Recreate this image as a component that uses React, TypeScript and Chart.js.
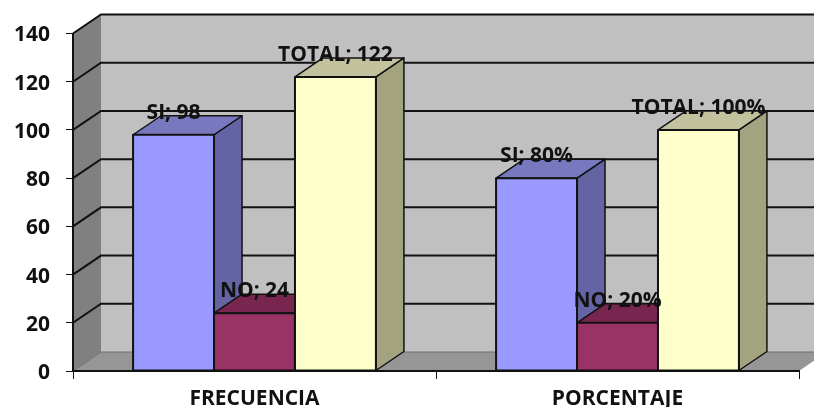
import React, { useEffect, useRef } from "react";
import { Chart, registerables } from "chart.js";

Chart.register(...registerables);

const categories = ["FRECUENCIA", "PORCENTAJE"];
const seriesNames = ["SI", "NO", "TOTAL"];
const siValues = [98, 80];
const noValues = [24, 20];
const totalValues = [122, 100];
const siLabels = ["98", "80%"];
const noLabels = ["24", "20%"];
const totalLabels = ["122", "100%"];

const FONT = '"Open Sans", sans-serif';
const DEPTH_X = 28;
const DEPTH_Y = 19;
const LABEL_RISE = 22;

const faces = [
  { front: "#9999FF", side: "#6464A4", top: "#7878BF", labels: siLabels },
  { front: "#993366", side: "#6F2549", top: "#78264F", labels: noLabels },
  { front: "#FFFFCC", side: "#A3A37F", top: "#C2C29E", labels: totalLabels },
];

function polygon(ctx: CanvasRenderingContext2D, pts: number[][], fill: string, stroke?: string, lw = 1) {
  ctx.beginPath();
  pts.forEach(([x, y], i) => (i ? ctx.lineTo(x, y) : ctx.moveTo(x, y)));
  ctx.closePath();
  ctx.fillStyle = fill;
  ctx.fill();
  if (stroke) {
    ctx.strokeStyle = stroke;
    ctx.lineWidth = lw;
    ctx.stroke();
  }
}

// Back wall, side wall, floor and the gridlines that run across them.
const wallsPlugin = {
  id: "walls",
  beforeDraw(chart: any) {
    const { ctx, chartArea: a, scales } = chart;
    const y = scales.y;
    const dx = DEPTH_X;
    const dy = DEPTH_Y;
    ctx.save();
    polygon(ctx, [[a.left + dx, a.top - dy], [a.right + dx, a.top - dy], [a.right + dx, a.bottom - dy], [a.left + dx, a.bottom - dy]], "#C0C0C0");
    polygon(ctx, [[a.left, a.top], [a.left + dx, a.top - dy], [a.left + dx, a.bottom - dy], [a.left, a.bottom]], "#808080");
    polygon(ctx, [[a.left, a.bottom], [a.right, a.bottom], [a.right + dx, a.bottom - dy], [a.left + dx, a.bottom - dy]], "#969696");
    y.ticks.forEach((t: any) => {
      const py = y.getPixelForValue(t.value);
      ctx.beginPath();
      ctx.moveTo(a.left, py);
      ctx.lineTo(a.left + dx, py - dy);
      ctx.lineTo(a.right + dx, py - dy);
      ctx.strokeStyle = t.value === 0 ? "#6E6E6E" : "#111111";
      ctx.lineWidth = t.value === 0 ? 1 : 2;
      ctx.stroke();
    });
    ctx.restore();
  },
};

// Bars are painted here, left series first, so each prism overlaps the one before it.
const prismPlugin = {
  id: "prism",
  beforeDatasetDraw() {
    return false;
  },
  afterDatasetsDraw(chart: any) {
    const { ctx } = chart;
    const dx = DEPTH_X;
    const dy = DEPTH_Y;
    ctx.save();
    ctx.lineJoin = "round";
    faces.forEach((style, ds) => {
      chart.getDatasetMeta(ds).data.forEach((bar: any) => {
        const l = bar.x - bar.width / 2;
        const r = bar.x + bar.width / 2;
        const t = bar.y;
        const b = bar.base;
        polygon(ctx, [[r, t], [r + dx, t - dy], [r + dx, b - dy], [r, b]], style.side, "#111111", 1.5);
        polygon(ctx, [[l, t], [l + dx, t - dy], [r + dx, t - dy], [r, t]], style.top, "#111111", 1.5);
        bar.draw(ctx);
        ctx.strokeStyle = "#111111";
        ctx.lineWidth = 2;
        ctx.strokeRect(l, t, r - l, b - t);
      });
    });
    // "Series; value" captions sit above every bar.
    ctx.font = `bold 21px ${FONT}`;
    ctx.fillStyle = "#111111";
    ctx.textAlign = "center";
    ctx.textBaseline = "middle";
    faces.forEach((style, ds) => {
      chart.getDatasetMeta(ds).data.forEach((bar: any, i: number) => {
        ctx.fillText(`${seriesNames[ds]}; ${style.labels[i]}`, bar.x, bar.y - LABEL_RISE);
      });
    });
    ctx.restore();
  },
};

export default function App() {
  const ref = useRef<HTMLCanvasElement>(null);

  useEffect(() => {
    const makeSet = (i: number, data: number[]) => ({
      label: seriesNames[i],
      data,
      backgroundColor: faces[i].front,
      borderWidth: 0,
    });
    const chart = new Chart(ref.current as HTMLCanvasElement, {
      type: "bar",
      data: {
        labels: categories,
        datasets: [makeSet(0, siValues), makeSet(1, noValues), makeSet(2, totalValues)],
      },
      plugins: [wallsPlugin, prismPlugin],
      options: {
        responsive: false,
        animation: false,
        layout: { padding: { top: 33.5, right: 15, left: 0, bottom: 0 } },
        plugins: { legend: { display: false }, tooltip: { enabled: false } },
        datasets: { bar: { categoryPercentage: 0.669, barPercentage: 1 } },
        scales: {
          x: {
            afterFit: (s: any) => { s.height = 36; },
            grid: { drawOnChartArea: false, drawTicks: true, tickLength: 8, color: "#111111" },
            border: { color: "#111111", width: 2 },
            ticks: { color: "#111111", padding: 7, maxRotation: 0, font: { family: FONT, size: 21, weight: "bold" } },
          },
          y: {
            min: 0,
            max: 140,
            afterFit: (s: any) => { s.width = 73; },
            grid: { drawOnChartArea: false, drawTicks: true, tickLength: 7, color: "#111111" },
            border: { color: "#111111", width: 2 },
            ticks: { stepSize: 20, color: "#111111", padding: 16, labelOffset: 2, font: { family: FONT, size: 21, weight: "bold" } },
          },
        },
      },
    } as any);
    return () => chart.destroy();
  }, []);

  return (
    <div style={{ position: "absolute", left: 0, top: 0, width: 814, height: 407 }}>
      <canvas ref={ref} width={814} height={407} style={{ display: "block" }} />
    </div>
  );
}
